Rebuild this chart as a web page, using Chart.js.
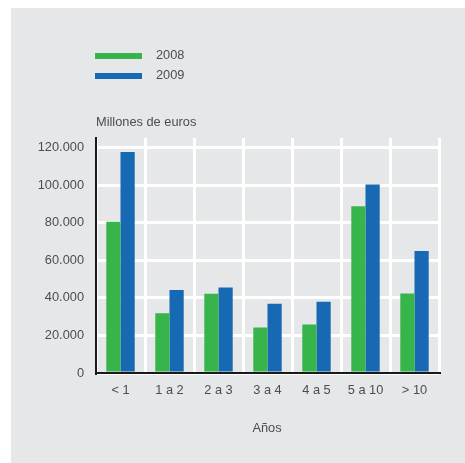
<!DOCTYPE html>
<html>
<head>
<meta charset="utf-8">
<script src="https://cdn.jsdelivr.net/npm/chart.js@4/dist/chart.umd.min.js"></script>
<style>
  html, body { margin: 0; padding: 0; background: #fff; }
  #panel { position: absolute; left: 11px; top: 8px; width: 454px; height: 455px; background: #e6e7e8; }
  #wrap { position: absolute; left: 0; top: 0; width: 465px; height: 463px; }
</style>
</head>
<body>
<div id="panel"></div>
<div id="wrap"><canvas id="chart"></canvas></div>
<script>
const categories = ['< 1', '1 a 2', '2 a 3', '3 a 4', '4 a 5', '5 a 10', '> 10'];
const values2008 = [80500, 31800, 42100, 24200, 25800, 88700, 42300];
const values2009 = [117500, 44100, 45500, 36800, 37900, 100300, 64900];
const yTicks = [0, 20000, 40000, 60000, 80000, 100000, 120000];
const seriesLabels = ['2008', '2009'];
const yTitle = 'Millones de euros';
const xTitle = 'Años';

const FONT = '"Liberation Sans", Arial, sans-serif';
const FSIZE = 12.8;
const TEXT = '#4d4d4d';

const fmt = (v) => String(v).replace(/\B(?=(\d{3})+(?!\d))/g, '.');

// legend, unit label and axis title drawn by hand
const extras = {
    id: 'extras',
    afterDraw(chart) {
        const ctx = chart.ctx;
        const area = chart.chartArea;
        ctx.save();
        ctx.font = FSIZE + 'px ' + FONT;
        ctx.fillStyle = TEXT;
        ctx.textBaseline = 'middle';
        chart.data.datasets.forEach((ds, i) => {
            const y = 56 + i * 20;
            ctx.fillStyle = ds.backgroundColor;
            ctx.fillRect(area.left - 1, y - 3, 47, 6);
            ctx.fillStyle = TEXT;
            ctx.textAlign = 'left';
            ctx.fillText(ds.label, area.left + 60, y - 1);
        });
        ctx.textAlign = 'left';
        ctx.fillText(yTitle, area.left, 122);
        ctx.textAlign = 'center';
        ctx.fillText(xTitle, 267, 428);
        ctx.restore();
    }
};

new Chart(document.getElementById('chart'), {
    type: 'bar',
    data: {
        labels: categories,
        datasets: [
            { label: seriesLabels[0], data: values2008, backgroundColor: '#37b54a' },
            { label: seriesLabels[1], data: values2009, backgroundColor: '#1869b4' },
        ],
    },
    options: {
        responsive: true,
        maintainAspectRatio: false,
        animation: false,
        datasets: {
            bar: { categoryPercentage: 0.58, barPercentage: 1.0, borderWidth: 0 },
        },
        layout: { padding: { top: 138, right: 26, left: 0, bottom: 0 } },
        plugins: {
            legend: { display: false },
            tooltip: { enabled: false },
        },
        scales: {
            x: {
                grid: { color: '#ffffff', lineWidth: 3, drawTicks: false, offset: true },
                border: { color: '#1a1a1a', width: 2 },
                ticks: { color: TEXT, font: { family: FONT, size: FSIZE }, padding: 10, maxRotation: 0 },
                afterFit: (scale) => { scale.height = 90; },
            },
            y: {
                min: 0,
                max: 125000,
                grid: { color: '#ffffff', lineWidth: 3, drawTicks: false },
                border: { color: '#1a1a1a', width: 2 },
                ticks: {
                    color: TEXT,
                    font: { family: FONT, size: FSIZE },
                    padding: 12,
                    callback: (v) => fmt(v),
                },
                afterBuildTicks: (scale) => { scale.ticks = yTicks.map((v) => ({ value: v })); },
                afterFit: (scale) => { scale.width = 96; },
            },
        },
    },
    plugins: [extras],
});
</script>
</body>
</html>
